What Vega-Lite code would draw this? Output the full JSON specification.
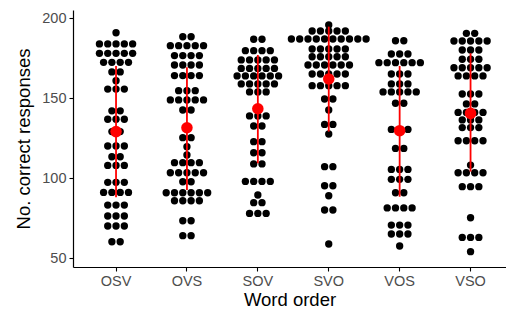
{
  "$schema": "https://vega.github.io/schema/vega-lite/v6.json",
  "width": 433,
  "height": 257,
  "autosize": {"type": "none"},
  "padding": {"left": 73, "top": 10, "right": 0, "bottom": 47},
  "background": "white",
  "config": {
    "view": {"stroke": null},
    "font": "Liberation Sans",
    "axis": {
      "grid": false,
      "domainColor": "black",
      "domainWidth": 1.2,
      "tickColor": "black",
      "tickWidth": 1.1,
      "tickSize": 4,
      "labelFont": "Liberation Sans",
      "labelFontSize": 14.5,
      "labelColor": "#4D4D4D",
      "labelPadding": 3,
      "titleFont": "Liberation Sans",
      "titleFontSize": 18.5,
      "titleFontWeight": "normal",
      "titleColor": "black"
    }
  },
  "datasets": {
    "dots": [
      {"order":"OSV","value":190.8},
      {"order":"OSV","value":183.8},{"order":"OSV","value":183.8},{"order":"OSV","value":183.8},{"order":"OSV","value":183.8},{"order":"OSV","value":183.8},
      {"order":"OSV","value":177.9},{"order":"OSV","value":177.9},{"order":"OSV","value":177.9},{"order":"OSV","value":177.9},{"order":"OSV","value":177.9},
      {"order":"OSV","value":172.3},{"order":"OSV","value":172.3},{"order":"OSV","value":172.3},{"order":"OSV","value":172.3},
      {"order":"OSV","value":166.3},{"order":"OSV","value":166.3},
      {"order":"OSV","value":160.8},
      {"order":"OSV","value":155.6},{"order":"OSV","value":155.6},{"order":"OSV","value":155.6},
      {"order":"OSV","value":142.0},{"order":"OSV","value":142.0},
      {"order":"OSV","value":136.7},{"order":"OSV","value":136.7},{"order":"OSV","value":136.7},
      {"order":"OSV","value":129.0},{"order":"OSV","value":129.0},
      {"order":"OSV","value":120.0},{"order":"OSV","value":120.0},{"order":"OSV","value":120.0},
      {"order":"OSV","value":113.3},{"order":"OSV","value":113.3},
      {"order":"OSV","value":107.9},{"order":"OSV","value":107.9},{"order":"OSV","value":107.9},
      {"order":"OSV","value":97.3},{"order":"OSV","value":97.3},{"order":"OSV","value":97.3},
      {"order":"OSV","value":91.0},{"order":"OSV","value":91.0},{"order":"OSV","value":91.0},{"order":"OSV","value":91.0},
      {"order":"OSV","value":83.1},{"order":"OSV","value":83.1},{"order":"OSV","value":83.1},
      {"order":"OSV","value":76.3},{"order":"OSV","value":76.3},{"order":"OSV","value":76.3},
      {"order":"OSV","value":70.0},{"order":"OSV","value":70.0},{"order":"OSV","value":70.0},
      {"order":"OSV","value":60.2},{"order":"OSV","value":60.2},

      {"order":"OVS","value":188.3},{"order":"OVS","value":188.3},
      {"order":"OVS","value":182.7},{"order":"OVS","value":182.7},{"order":"OVS","value":182.7},{"order":"OVS","value":182.7},{"order":"OVS","value":182.7},
      {"order":"OVS","value":176.5},{"order":"OVS","value":176.5},{"order":"OVS","value":176.5},{"order":"OVS","value":176.5},
      {"order":"OVS","value":170.6},{"order":"OVS","value":170.6},{"order":"OVS","value":170.6},{"order":"OVS","value":170.6},
      {"order":"OVS","value":164.0},{"order":"OVS","value":164.0},{"order":"OVS","value":164.0},{"order":"OVS","value":164.0},
      {"order":"OVS","value":154.6},{"order":"OVS","value":154.6},{"order":"OVS","value":154.6},
      {"order":"OVS","value":148.8},{"order":"OVS","value":148.8},{"order":"OVS","value":148.8},{"order":"OVS","value":148.8},{"order":"OVS","value":148.8},
      {"order":"OVS","value":142.5},{"order":"OVS","value":142.5},
      {"order":"OVS","value":125.2},{"order":"OVS","value":125.2},
      {"order":"OVS","value":119.6},
      {"order":"OVS","value":114.4},
      {"order":"OVS","value":109.6},{"order":"OVS","value":109.6},{"order":"OVS","value":109.6},{"order":"OVS","value":109.6},
      {"order":"OVS","value":103.3},{"order":"OVS","value":103.3},{"order":"OVS","value":103.3},{"order":"OVS","value":103.3},{"order":"OVS","value":103.3},
      {"order":"OVS","value":97.7},{"order":"OVS","value":97.7},
      {"order":"OVS","value":90.8},{"order":"OVS","value":90.8},{"order":"OVS","value":90.8},{"order":"OVS","value":90.8},{"order":"OVS","value":90.8},{"order":"OVS","value":90.8},
      {"order":"OVS","value":85.8},{"order":"OVS","value":85.8},{"order":"OVS","value":85.8},{"order":"OVS","value":85.8},
      {"order":"OVS","value":73.3},{"order":"OVS","value":73.3},
      {"order":"OVS","value":64.0},{"order":"OVS","value":64.0},

      {"order":"SOV","value":186.7},{"order":"SOV","value":186.7},
      {"order":"SOV","value":179.6},{"order":"SOV","value":179.6},{"order":"SOV","value":179.6},{"order":"SOV","value":179.6},
      {"order":"SOV","value":173.8},{"order":"SOV","value":173.8},{"order":"SOV","value":173.8},{"order":"SOV","value":173.8},{"order":"SOV","value":173.8},
      {"order":"SOV","value":168.5},{"order":"SOV","value":168.5},{"order":"SOV","value":168.5},{"order":"SOV","value":168.5},{"order":"SOV","value":168.5},
      {"order":"SOV","value":163.8},{"order":"SOV","value":163.8},{"order":"SOV","value":163.8},{"order":"SOV","value":163.8},{"order":"SOV","value":163.8},{"order":"SOV","value":163.8},
      {"order":"SOV","value":158.8},{"order":"SOV","value":158.8},{"order":"SOV","value":158.8},{"order":"SOV","value":158.8},{"order":"SOV","value":158.8},
      {"order":"SOV","value":153.8},{"order":"SOV","value":153.8},{"order":"SOV","value":153.8},
      {"order":"SOV","value":138.8},{"order":"SOV","value":138.8},{"order":"SOV","value":138.8},
      {"order":"SOV","value":132.5},{"order":"SOV","value":132.5},
      {"order":"SOV","value":122.7},{"order":"SOV","value":122.7},
      {"order":"SOV","value":115.8},{"order":"SOV","value":115.8},
      {"order":"SOV","value":108.8},{"order":"SOV","value":108.8},
      {"order":"SOV","value":97.9},{"order":"SOV","value":97.9},{"order":"SOV","value":97.9},{"order":"SOV","value":97.9},
      {"order":"SOV","value":89.4},
      {"order":"SOV","value":84.6},{"order":"SOV","value":84.6},
      {"order":"SOV","value":77.9},{"order":"SOV","value":77.9},{"order":"SOV","value":77.9},

      {"order":"SVO","value":195.6},
      {"order":"SVO","value":191.9},{"order":"SVO","value":191.9},{"order":"SVO","value":191.9},{"order":"SVO","value":191.9},{"order":"SVO","value":191.9},
      {"order":"SVO","value":186.9},{"order":"SVO","value":186.9},{"order":"SVO","value":186.9},{"order":"SVO","value":186.9},{"order":"SVO","value":186.9},{"order":"SVO","value":186.9},{"order":"SVO","value":186.9},{"order":"SVO","value":186.9},{"order":"SVO","value":186.9},{"order":"SVO","value":186.9},
      {"order":"SVO","value":180.6},{"order":"SVO","value":180.6},{"order":"SVO","value":180.6},{"order":"SVO","value":180.6},{"order":"SVO","value":180.6},
      {"order":"SVO","value":175.8},{"order":"SVO","value":175.8},{"order":"SVO","value":175.8},{"order":"SVO","value":175.8},{"order":"SVO","value":175.8},
      {"order":"SVO","value":170.6},{"order":"SVO","value":170.6},{"order":"SVO","value":170.6},{"order":"SVO","value":170.6},{"order":"SVO","value":170.6},{"order":"SVO","value":170.6},
      {"order":"SVO","value":165.0},{"order":"SVO","value":165.0},{"order":"SVO","value":165.0},{"order":"SVO","value":165.0},{"order":"SVO","value":165.0},
      {"order":"SVO","value":157.7},{"order":"SVO","value":157.7},{"order":"SVO","value":157.7},{"order":"SVO","value":157.7},{"order":"SVO","value":157.7},
      {"order":"SVO","value":149.4},{"order":"SVO","value":149.4},
      {"order":"SVO","value":142.5},
      {"order":"SVO","value":133.5},{"order":"SVO","value":133.5},
      {"order":"SVO","value":127.5},
      {"order":"SVO","value":107.1},{"order":"SVO","value":107.1},
      {"order":"SVO","value":95.2},{"order":"SVO","value":95.2},
      {"order":"SVO","value":88.9},
      {"order":"SVO","value":80.0},{"order":"SVO","value":80.0},
      {"order":"SVO","value":58.8},

      {"order":"VOS","value":185.8},{"order":"VOS","value":185.8},
      {"order":"VOS","value":177.5},{"order":"VOS","value":177.5},{"order":"VOS","value":177.5},
      {"order":"VOS","value":172.1},{"order":"VOS","value":172.1},{"order":"VOS","value":172.1},{"order":"VOS","value":172.1},{"order":"VOS","value":172.1},{"order":"VOS","value":172.1},
      {"order":"VOS","value":165.0},{"order":"VOS","value":165.0},{"order":"VOS","value":165.0},
      {"order":"VOS","value":158.8},{"order":"VOS","value":158.8},{"order":"VOS","value":158.8},
      {"order":"VOS","value":153.8},{"order":"VOS","value":153.8},{"order":"VOS","value":153.8},{"order":"VOS","value":153.8},{"order":"VOS","value":153.8},
      {"order":"VOS","value":146.7},{"order":"VOS","value":146.7},
      {"order":"VOS","value":130.4},{"order":"VOS","value":130.4},{"order":"VOS","value":130.4},
      {"order":"VOS","value":118.5},{"order":"VOS","value":118.5},
      {"order":"VOS","value":105.4},{"order":"VOS","value":105.4},{"order":"VOS","value":105.4},
      {"order":"VOS","value":99.2},{"order":"VOS","value":99.2},{"order":"VOS","value":99.2},
      {"order":"VOS","value":90.8},{"order":"VOS","value":90.8},
      {"order":"VOS","value":81.3},{"order":"VOS","value":81.3},{"order":"VOS","value":81.3},{"order":"VOS","value":81.3},
      {"order":"VOS","value":70.6},{"order":"VOS","value":70.6},{"order":"VOS","value":70.6},
      {"order":"VOS","value":65.0},{"order":"VOS","value":65.0},{"order":"VOS","value":65.0},
      {"order":"VOS","value":57.5},

      {"order":"VSO","value":190.4},{"order":"VSO","value":190.4},
      {"order":"VSO","value":185.6},{"order":"VSO","value":185.6},{"order":"VSO","value":185.6},{"order":"VSO","value":185.6},{"order":"VSO","value":185.6},
      {"order":"VSO","value":180.0},{"order":"VSO","value":180.0},{"order":"VSO","value":180.0},
      {"order":"VSO","value":174.2},{"order":"VSO","value":174.2},{"order":"VSO","value":174.2},
      {"order":"VSO","value":168.9},{"order":"VSO","value":168.9},{"order":"VSO","value":168.9},{"order":"VSO","value":168.9},{"order":"VSO","value":168.9},
      {"order":"VSO","value":163.8},{"order":"VSO","value":163.8},{"order":"VSO","value":163.8},{"order":"VSO","value":163.8},
      {"order":"VSO","value":152.5},{"order":"VSO","value":152.5},{"order":"VSO","value":152.5},
      {"order":"VSO","value":146.3},{"order":"VSO","value":146.3},
      {"order":"VSO","value":141.0},{"order":"VSO","value":141.0},{"order":"VSO","value":141.0},{"order":"VSO","value":141.0},
      {"order":"VSO","value":136.3},{"order":"VSO","value":136.3},{"order":"VSO","value":136.3},
      {"order":"VSO","value":131.5},{"order":"VSO","value":131.5},{"order":"VSO","value":131.5},
      {"order":"VSO","value":123.3},{"order":"VSO","value":123.3},{"order":"VSO","value":123.3},{"order":"VSO","value":123.3},
      {"order":"VSO","value":108.1},
      {"order":"VSO","value":103.3},{"order":"VSO","value":103.3},{"order":"VSO","value":103.3},{"order":"VSO","value":103.3},
      {"order":"VSO","value":94.6},{"order":"VSO","value":94.6},{"order":"VSO","value":94.6},
      {"order":"VSO","value":75.2},
      {"order":"VSO","value":62.9},{"order":"VSO","value":62.9},{"order":"VSO","value":62.9},
      {"order":"VSO","value":54.0}
    ],
    "summary": [
      {"order":"OSV","mean":129.0,"lo":88.0,"hi":170.0},
      {"order":"OVS","mean":131.4,"lo":92.5,"hi":169.2},
      {"order":"SOV","mean":143.3,"lo":109.2,"hi":176.9},
      {"order":"SVO","mean":161.9,"lo":129.0,"hi":194.6},
      {"order":"VOS","mean":129.6,"lo":88.3,"hi":170.0},
      {"order":"VSO","mean":140.4,"lo":104.0,"hi":178.0}
    ]
  },
  "layer": [
    {
      "data": {"name": "dots"},
      "transform": [
        {"window": [{"op": "row_number", "as": "k"}], "groupby": ["order", "value"]},
        {"joinaggregate": [{"op": "count", "as": "n"}], "groupby": ["order", "value"]},
        {"calculate": "datum.k - (datum.n + 1) / 2", "as": "off"}
      ],
      "mark": {"type": "circle", "size": 54, "color": "black", "opacity": 1},
      "encoding": {
        "x": {"field": "order", "type": "nominal", "title": "Word order",
              "scale": {"type": "band", "paddingInner": 0, "paddingOuter": 0.0535, "align": 1, "domain": ["OSV","OVS","SOV","SVO","VOS","VSO"]},
              "axis": {"labelAngle": 0, "titlePadding": 3}},
        "xOffset": {"field": "off", "type": "quantitative", "scale": {"domain": [-5, 5], "range": [-6.05, 76.95]}},
        "y": {"field": "value", "type": "quantitative", "title": "No. correct responses",
              "scale": {"domain": [44.4, 205], "nice": false, "zero": false},
              "axis": {"values": [50, 100, 150, 200], "titlePadding": 8}}
      }
    },
    {
      "data": {"name": "summary"},
      "mark": {"type": "rule", "color": "#FF0000", "strokeWidth": 1.8},
      "encoding": {
        "x": {"field": "order", "type": "nominal", "title": "Word order"},
        "y": {"field": "lo", "type": "quantitative", "title": "No. correct responses"},
        "y2": {"field": "hi"}
      }
    },
    {
      "data": {"name": "summary"},
      "mark": {"type": "circle", "size": 133, "color": "#FF0000", "opacity": 1},
      "encoding": {
        "x": {"field": "order", "type": "nominal", "title": "Word order"},
        "y": {"field": "mean", "type": "quantitative", "title": "No. correct responses"}
      }
    }
  ]
}
